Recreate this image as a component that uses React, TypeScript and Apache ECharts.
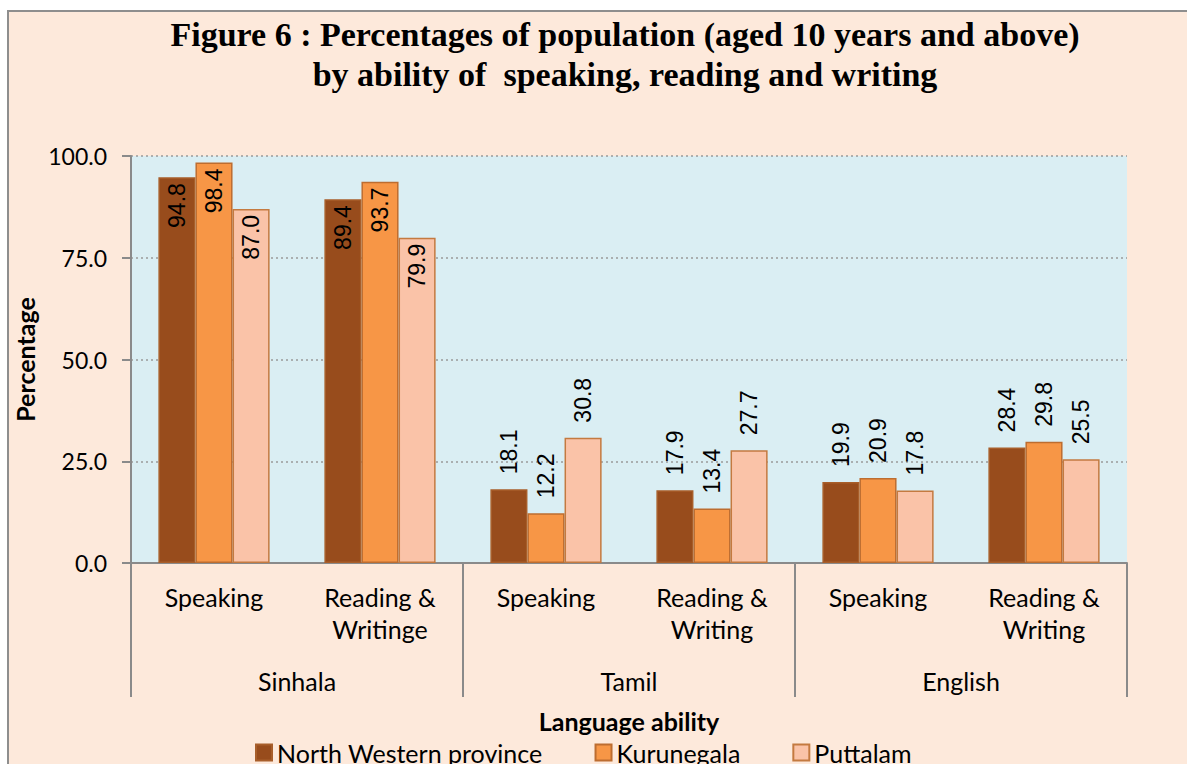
import React, { useEffect, useRef } from 'react';
import * as echarts from 'echarts';

const subCategories = ['Speaking', 'Reading &\nWritinge', 'Speaking', 'Reading &\nWriting', 'Speaking', 'Reading &\nWriting'];
const languages = ['Sinhala', 'Tamil', 'English'];
const seriesNames = ['North Western province', 'Kurunegala', 'Puttalam'];
const northWestern = [94.8, 89.4, 18.1, 17.9, 19.9, 28.4];
const kurunegala = [98.4, 93.7, 12.2, 13.4, 20.9, 29.8];
const puttalam = [87.0, 79.9, 30.8, 27.7, 17.8, 25.5];
const yMin = 0;
const yMax = 100;
const yInterval = 25;

const seriesValues = [northWestern, kurunegala, puttalam];
const fills = ['#984C1C', '#F79646', '#FAC3A8'];
const borders = ['#A85E2A', '#BD6D30', '#C47A40'];

const SANS = 'Lato, "Open Sans", sans-serif';
const LABEL_FONT = '"Liberation Sans", Arial, sans-serif';

export default function App() {
  const ref = useRef<HTMLDivElement>(null);
  useEffect(() => {
    if (!ref.current) return;
    const chart = echarts.init(ref.current, undefined, { renderer: 'svg' });
    const series = seriesValues.map((vals, si) => ({
      name: seriesNames[si],
      type: 'bar',
      xAxisIndex: 0,
      barGap: '0%',
      barCategoryGap: '33%',
      itemStyle: { color: fills[si], borderColor: borders[si], borderWidth: 1.5 },
      data: vals.map((v) => {
        const inside = v > 50;
        return {
          value: v,
          label: inside
            ? { position: 'insideTop', rotate: 90, align: 'right', verticalAlign: 'middle', distance: 6 }
            : { position: 'top', rotate: 90, align: 'left', verticalAlign: 'middle', distance: 15 },
        };
      }),
      label: {
        show: true,
        color: '#000',
        fontFamily: LABEL_FONT,
        fontSize: 23,
        formatter: (p: any) => Number(p.value).toFixed(1),
      },
    }));

    chart.setOption({
      animation: false,
      backgroundColor: '#ffffff',
      graphic: [
        {
          type: 'rect',
          z: -10,
          silent: true,
          shape: { x: 8, y: 11, width: 1400, height: 1000 },
          style: { fill: '#FDE9DB', stroke: '#8E8E8E', lineWidth: 2 },
        },
      ],
      title: {
        text: 'Figure 6 : Percentages of population (aged 10 years and above)\nby ability of  speaking, reading and writing',
        left: 620,
        top: 9,
        textAlign: 'center',
        textStyle: {
          fontFamily: '"Liberation Serif", "DejaVu Serif", serif',
          fontWeight: 'bold',
          fontSize: 34,
          lineHeight: 40,
          color: '#000',
        },
      },
      legend: {
        data: seriesNames,
        left: 250,
        top: 735,
        itemWidth: 16,
        itemHeight: 16,
        itemGap: 52,
        icon: 'rect',
        textStyle: { fontFamily: SANS, fontSize: 25, color: '#000' },
      },
      grid: {
        left: 131,
        right: 60,
        top: 156,
        bottom: 201,
        show: true,
        backgroundColor: '#DAEEF3',
        borderWidth: 0,
        containLabel: false,
      },
      xAxis: [
        {
          type: 'category',
          data: subCategories,
          position: 'bottom',
          axisLine: { show: true, lineStyle: { color: '#8A8A8A', width: 2 } },
          axisTick: { show: false },
          axisLabel: {
            interval: 0,
            color: '#000',
            fontFamily: SANS,
            fontSize: 25,
            lineHeight: 32,
            margin: 18,
          },
        },
        {
          type: 'category',
          data: languages,
          position: 'bottom',
          axisLine: { show: false },
          axisTick: { show: true, length: 134, lineStyle: { color: '#8A8A8A', width: 2 } },
          axisLabel: {
            interval: 0,
            color: '#000',
            fontFamily: SANS,
            fontSize: 25,
            margin: 105,
          },
          name: 'Language ability',
          nameLocation: 'middle',
          nameGap: 145,
          nameTextStyle: { fontFamily: SANS, fontSize: 25, fontWeight: 'bold', color: '#000' },
        },
      ],
      yAxis: {
        type: 'value',
        min: yMin,
        max: yMax,
        interval: yInterval,
        name: 'Percentage',
        nameLocation: 'middle',
        nameGap: 72,
        nameTextStyle: { fontFamily: SANS, fontSize: 25, fontWeight: 'bold', color: '#000' },
        axisLine: { show: true, lineStyle: { color: '#8A8A8A', width: 2 } },
        axisTick: { show: true, length: 9, lineStyle: { color: '#8A8A8A', width: 2 } },
        axisLabel: {
          color: '#000',
          fontFamily: SANS,
          fontSize: 23,
          margin: 24,
          formatter: (v: number) => v.toFixed(1),
        },
        splitLine: { show: true, lineStyle: { color: '#9A9A9A', type: [2, 3], width: 1.5 } },
      },
      series,
    });
    return () => chart.dispose();
  }, []);
  return <div ref={ref} style={{ position: 'absolute', left: 0, top: 0, width: 1187, height: 764 }} />;
}
